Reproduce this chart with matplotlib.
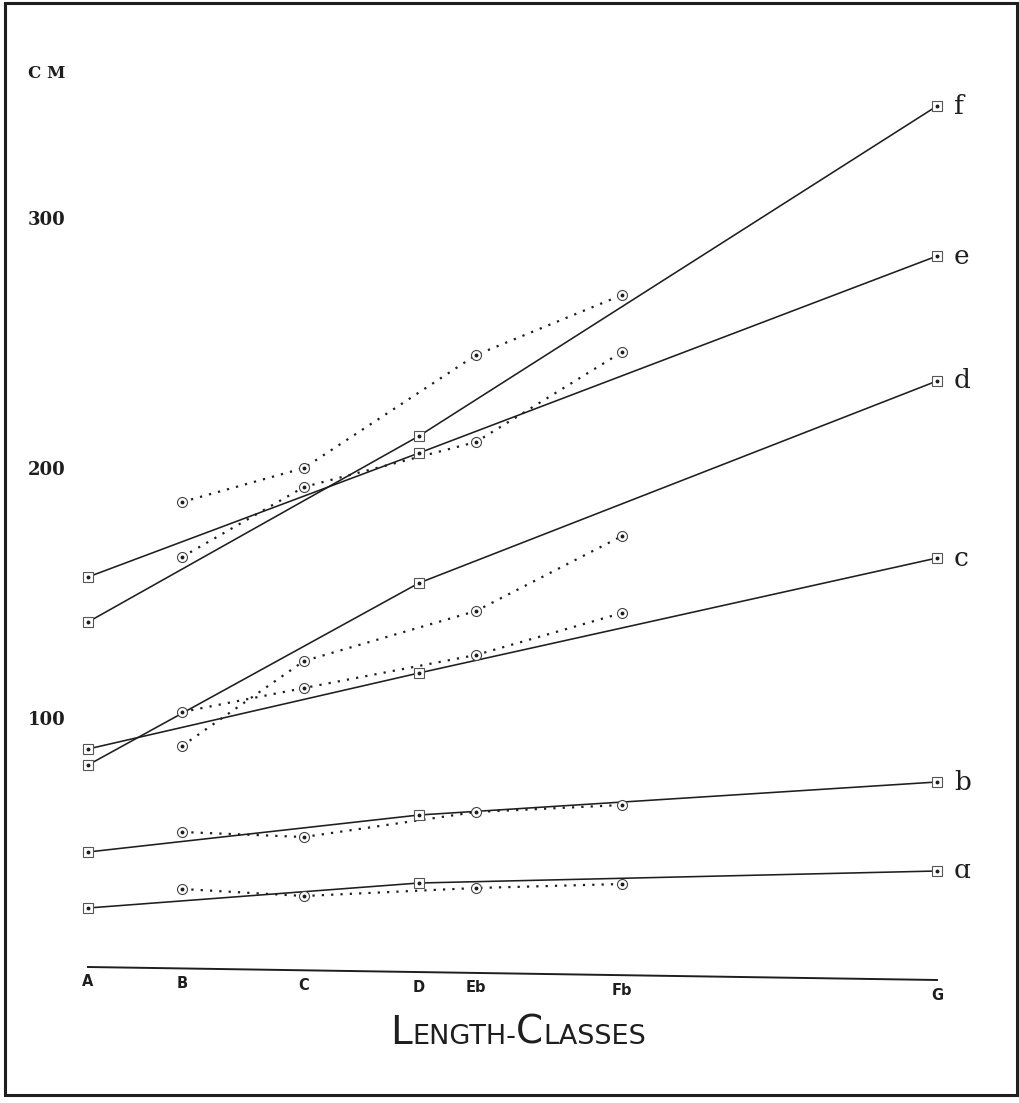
import matplotlib
matplotlib.use('Agg')
import matplotlib.pyplot as plt
from matplotlib.patches import Rectangle

# length classes and their abscissae along the base line
classes = ['A', 'B', 'C', 'D', 'Eb', 'Fb', 'G']
class_pos = [0.0, 9.4, 21.6, 33.1, 38.8, 53.4, 84.9]

# solid series, measured at A, D and G
solid_classes = ['A', 'D', 'G']
solid_f = [139.2, 213.6, 345.6]
solid_e = [157.2, 206.8, 285.6]
solid_d = [82.0, 154.8, 235.6]
solid_c = [88.4, 118.8, 164.8]
solid_b = [47.2, 62.0, 75.2]
solid_a = [24.8, 34.8, 39.6]

# dotted series, measured at B, C, Eb and Fb
dotted_classes = ['B', 'C', 'Eb', 'Fb']
dotted_f = [187.2, 200.8, 246.0, 270.0]
dotted_e = [165.2, 193.2, 211.2, 247.2]
dotted_d = [89.6, 123.6, 143.6, 173.6]
dotted_c = [103.2, 112.8, 126.0, 142.8]
dotted_b = [55.2, 53.2, 63.2, 66.0]
dotted_a = [32.4, 29.6, 32.8, 34.4]

series_names = ['f', 'e', 'd', 'c', 'b', 'ɑ']
solid_series = [solid_f, solid_e, solid_d, solid_c, solid_b, solid_a]
dotted_series = [dotted_f, dotted_e, dotted_d, dotted_c, dotted_b, dotted_a]

y_ticks = [100, 200, 300]

INK = '#1e1e1e'

W, H = 1020, 1103
fig = plt.figure(figsize=(W / 100, H / 100), dpi=100)
ax = fig.add_axes([0, 0, 1, 1])
# 10 px per x unit, 2.5 px per cm
ax.set_xlim(-8.8, (W - 88) / 10)
ax.set_ylim((970 - H) / 2.5, 970 / 2.5)
ax.axis('off')

pos = dict(zip(classes, class_pos))
sx = [pos[c] for c in solid_classes]
dx = [pos[c] for c in dotted_classes]

for vals in solid_series:
    ax.plot(sx, vals, color=INK, lw=1.15, zorder=2)
    ax.plot(sx, vals, ls='none', marker='s', ms=7, mfc='white',
            mec='#555555', mew=0.8, zorder=3)
    ax.plot(sx, vals, ls='none', marker='o', ms=1.8, color=INK, zorder=4)

for vals in dotted_series:
    ax.plot(dx, vals, color=INK, lw=1.6, ls=(0, (1.0, 3.2)), zorder=2)
    ax.plot(dx, vals, ls='none', marker='o', ms=7.2, mfc='white',
            mec='#444444', mew=0.8, zorder=3)
    ax.plot(dx, vals, ls='none', marker='o', ms=1.8, color=INK, zorder=4)

# series letters at the right end
for name, vals in zip(series_names, solid_series):
    ax.text(pos['G'] + 1.7, vals[-1], name, fontsize=19, family='DejaVu Serif',
            ha='left', va='center', color=INK)

# base line, slightly skewed like the plate
ax.plot([pos['A'], pos['G']], [1.2, -4.0], color=INK, lw=1.4)
for c, x in zip(classes, class_pos):
    yb = 1.2 + (-5.2) * (x - pos['A']) / (pos['G'] - pos['A'])
    ax.text(x, yb - 6.0, c, fontsize=10.5, family='Liberation Sans Narrow',
            fontweight='bold', ha='center', va='center', color=INK)

# vertical scale
for v in y_ticks:
    ax.text(-6.0, v, str(v), fontsize=13, family='DejaVu Serif',
            fontweight='bold', ha='left', va='center', color=INK)
ax.text(-6.0, 358.8, 'C M', fontsize=12, family='DejaVu Serif',
        fontweight='bold', ha='left', va='center', color=INK)

# title in small capitals, built from pieces
pieces = [('L', 28), ('ENGTH-', 19.5), ('C', 28), ('LASSES', 19.5)]
renderer = fig.canvas.get_renderer()
texts = []
for s, size in pieces:
    t = fig.text(0, 0, s, fontsize=size, family='Liberation Sans Narrow',
                 ha='left', va='baseline', color=INK)
    texts.append(t)
widths = [t.get_window_extent(renderer).width for t in texts]
total = sum(widths)
x0 = 518 - total / 2
base_y = (H - 1044) / H
for t, w in zip(texts, widths):
    t.set_position((x0 / W, base_y))
    x0 += w

# plate border
fig.patches.append(Rectangle((5 / W, (H - 1095) / H), (1017 - 5) / W,
                             (1095 - 3) / H, transform=fig.transFigure,
                             fill=False, ec=INK, lw=2.2))

fig.savefig('out.png', dpi=100)
